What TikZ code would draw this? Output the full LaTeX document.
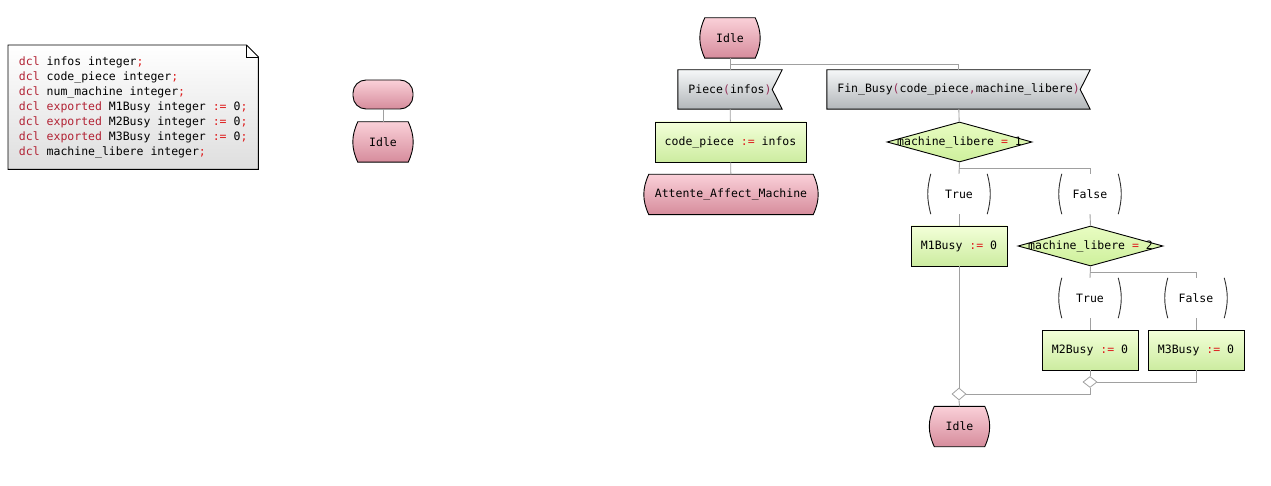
\documentclass[tikz,border=0pt]{standalone}
\usepackage{fontspec}
\newfontfamily\sdlfont{DejaVu Sans Mono}
\usepackage{tikz}
\usetikzlibrary{shapes.geometric,positioning,calc,backgrounds}
\definecolor{kwred}{RGB}{178,34,52}
\definecolor{opred}{RGB}{222,30,30}
\definecolor{parcol}{RGB}{150,50,90}
\definecolor{flowgray}{RGB}{160,160,160}
\definecolor{statetop}{RGB}{250,208,216}
\definecolor{statebot}{RGB}{214,140,156}
\definecolor{tasktop}{RGB}{243,255,216}
\definecolor{taskbot}{RGB}{204,236,160}
\definecolor{inputtop}{RGB}{245,247,248}
\definecolor{inputbot}{RGB}{178,182,185}
\definecolor{dectop}{RGB}{232,252,194}
\definecolor{decbot}{RGB}{206,240,156}
\definecolor{notebot}{RGB}{222,222,222}
\newcommand{\kw}[1]{\textcolor{kwred}{#1}}
\newcommand{\op}[1]{\textcolor{opred}{#1}}
\newcommand{\pa}[1]{\textcolor{parcol}{#1}}

\begin{document}
\begin{tikzpicture}[x=1pt, y=-1pt,
    every node/.style={font=\sdlfont\fontsize{11.5}{15}\selectfont, inner sep=0pt},
    flow/.style={draw=flowgray, line width=0.9pt},
    shapeline/.style={draw=black, line width=0.9pt},
    state/.style={rectangle, minimum width=50pt, minimum height=40pt},
    stateshape/.style={shapeline, top color=statetop, bottom color=statebot},
    startbox/.style={rectangle, rounded corners=13pt, shapeline, top color=statetop, bottom color=statebot, minimum width=60pt, minimum height=29pt},
    task/.style={rectangle, shapeline, top color=tasktop, bottom color=taskbot, minimum width=96pt, minimum height=40pt},
    input/.style={rectangle, minimum height=39pt},
    inputshape/.style={shapeline, top color=inputtop, bottom color=inputbot},
    decision/.style={diamond, shapeline, top color=dectop, bottom color=decbot, minimum width=145pt, minimum height=40pt},
    arcline/.style={draw=black!80, line width=0.9pt},
    answer/.style={minimum width=56pt, minimum height=40pt,
        append after command={(\tikzlastnode.north west) edge[arcline, bend right=15] (\tikzlastnode.south west)
            (\tikzlastnode.north east) edge[arcline, bend left=15] (\tikzlastnode.south east)}},
    mergepoint/.style={diamond, draw=flowgray, fill=white, line width=0.8pt, minimum width=14pt, minimum height=11pt}]

    \useasboundingbox (0,0) rectangle (1271,486);

    % declarations
    \node[anchor=north west, align=left, minimum width=250pt, minimum height=124pt] (decl) at (8,45)
        {\kw{dcl} infos integer\op{;}\\
         \kw{dcl} code\_piece integer\op{;}\\
         \kw{dcl} num\_machine integer\op{;}\\
         \kw{dcl} \kw{exported} M1Busy integer \op{:=} 0\op{;}\\
         \kw{dcl} \kw{exported} M2Busy integer \op{:=} 0\op{;}\\
         \kw{dcl} \kw{exported} M3Busy integer \op{:=} 0\op{;}\\
         \kw{dcl} machine\_libere integer\op{;}};
    \draw[shapeline] ([xshift=-12pt]decl.north east) |- ([yshift=-12pt]decl.north east);

    % start
    \node[startbox] (start) at (383,94.5) {};
    \node[state] (idle0) at (383,142) {Idle};
    \draw[flow] (start) -- (idle0);

    % Idle state
    \node[state] (idle1) at (730,38) {Idle};
    \node[input, minimum width=104pt] (piece) at (730,89.5) {Piece\pa{(}infos\pa{)}};
    \node[task, minimum width=151pt] (codep) at (730.5,142) {code\_piece \op{:=} infos};
    \node[state, minimum width=164pt] (attente) at (731,194.5) {Attente\_Affect\_Machine};
    \node[input, minimum width=263pt] (finbusy) at (958.5,89.5) {Fin\_Busy\pa{(}code\_piece\pa{,}machine\_libere\pa{)}};

    \draw[flow] (idle1) -- (piece);
    \draw[flow] (finbusy.north) |- ($(idle1.south)!0.5!(piece.north)$);
    \draw[flow] (piece) -- (codep);
    \draw[flow] (codep) -- (attente);

    % decisions
    \node[decision] (dec1) at (959.5,142) {\makebox[0pt]{machine\_libere \op{=} 1}};
    \node[answer] (true1) at (959,194) {True};
    \node[answer] (false1) at (1090,194) {False};
    \node[task] (m1) at (959,246) {M1Busy \op{:=} 0};
    \node[decision] (dec2) at (1090.5,246) {\makebox[0pt]{machine\_libere \op{=} 2}};
    \node[answer] (true2) at (1090,298) {True};
    \node[answer] (false2) at (1196,298) {False};
    \node[task] (m2) at (1090,350) {M2Busy \op{:=} 0};
    \node[task] (m3) at (1196,350) {M3Busy \op{:=} 0};

    \draw[flow] (finbusy) -- (dec1);
    \draw[flow] (dec1.south) -- (true1.north);
    \draw[flow] (false1.north) |- ($(dec1.south)!0.5!(true1.north)$);
    \draw[flow] (true1) -- (m1);
    \draw[flow] (false1.south) -- (dec2.north);
    \draw[flow] (dec2.south) -- (true2.north);
    \draw[flow] (false2.north) |- ($(dec2.south)!0.5!(true2.north)$);
    \draw[flow] (true2) -- (m2);
    \draw[flow] (false2) -- (m3);

    % merges
    \node[mergepoint] (merge2) at (1090,382) {};
    \node[mergepoint, minimum height=12pt] (merge1) at (959,394) {};
    \node[state] (idle2) at (959.5,426.5) {Idle};

    \draw[flow] (m2.south) -- (merge2.north);
    \draw[flow] (m3.south) |- (merge2.east);
    \draw[flow] (m1.south) -- (merge1.north);
    \draw[flow] (merge2.south) |- (merge1.east);
    \draw[flow] (merge1.south) -- (idle2.north);

    % outlines behind the texts
    \begin{pgfonlayer}{background}
        \draw[shapeline, top color=white, middle color=white, bottom color=notebot]
            (decl.north west) -- ([xshift=-12pt]decl.north east) -- ([yshift=-12pt]decl.north east)
            -- (decl.south east) -- (decl.south west) -- cycle;
        \foreach \s in {idle0,idle1,attente,idle2}
            \draw[stateshape] (\s.north west) to[bend right=25] (\s.south west) -- (\s.south east)
                to[bend right=25] (\s.north east) -- cycle;
        \foreach \s in {piece,finbusy}
            \draw[inputshape] (\s.north west) -- (\s.north east) -- ([xshift=-10pt]\s.east)
                -- (\s.south east) -- (\s.south west) -- cycle;
    \end{pgfonlayer}
\end{tikzpicture}
\end{document}
